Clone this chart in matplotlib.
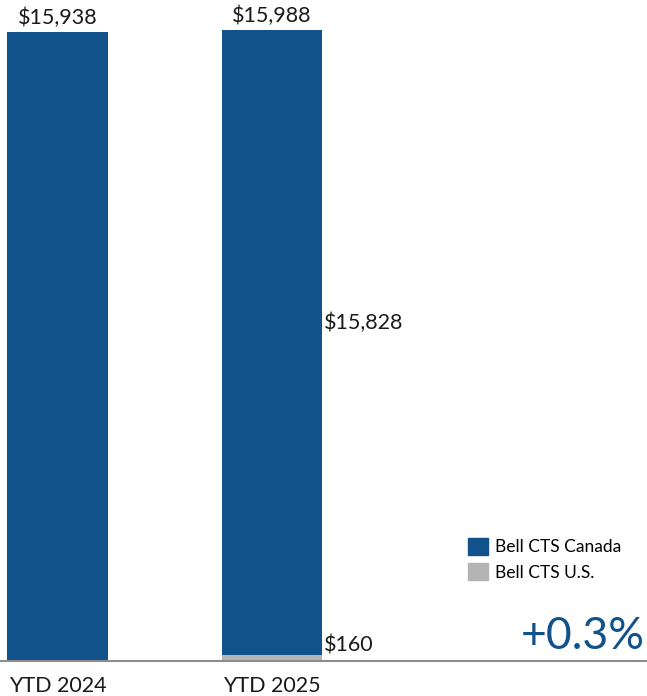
import matplotlib
matplotlib.use("Agg")
import matplotlib.pyplot as plt
from matplotlib.patches import Patch

periods = ["YTD 2024", "YTD 2025"]
canada = [15938, 15828]
us = [0, 160]
totals = [15938, 15988]
series_names = ["Bell CTS Canada", "Bell CTS U.S."]
change_label = "+0.3%"

blue = "#12528A"
grey = "#B4B4B4"
txt = "#1a1a1a"

plt.rcParams['font.family'] = ['Lato', 'DejaVu Sans']

fig = plt.figure(figsize=(6.47, 6.96), dpi=100)
ax = fig.add_axes([0, 35 / 696, 1, 661 / 696])

x = [0, 1]
w = 0.47
ax.bar(x, us, width=w, color=grey, zorder=2)
ax.bar(x, canada, width=w, bottom=us, color=blue, zorder=2)

ax.set_xlim(-0.268, 2.748)
ax.set_ylim(0, 661 * 15938 / 629)

# totals above bars
for xi, t in zip(x, totals):
    ax.annotate(f"${t:,.0f}", (xi, t), xytext=(0, 3), textcoords="offset points",
                ha="center", va="bottom", fontsize=15.5, color=txt)

# segment labels on right of second bar
ax.text(x[1] + w / 2 + 0.005, 8560, f"${canada[1]:,.0f}", ha="left", va="center",
        fontsize=15.5, color=txt)
ax.text(x[1] + w / 2 + 0.005, 400, f"${us[1]:,.0f}", ha="left", va="center",
        fontsize=15.5, color=txt)

ax.text(0.997, 0.037, change_label, transform=ax.transAxes, ha="right", va="center",
        fontsize=32, color=blue)

handles = [Patch(color=blue, label=series_names[0]),
           Patch(color=grey, label=series_names[1])]
ax.legend(handles=handles, loc="upper left", bbox_to_anchor=(0.712, 0.197),
          frameon=False, fontsize=12.5, handlelength=1.15, handleheight=1.15,
          handletextpad=0.45, labelspacing=0.45, borderaxespad=0)

for s in ["top", "right", "left"]:
    ax.spines[s].set_visible(False)
ax.spines["bottom"].set_color("#8c8c8c")
ax.spines["bottom"].set_linewidth(1.5)
ax.set_yticks([])
ax.set_xticks(x)
ax.set_xticklabels(periods, fontsize=15.5, color=txt)
ax.tick_params(axis="x", length=0, pad=11)

fig.savefig("out.png", dpi=100)
